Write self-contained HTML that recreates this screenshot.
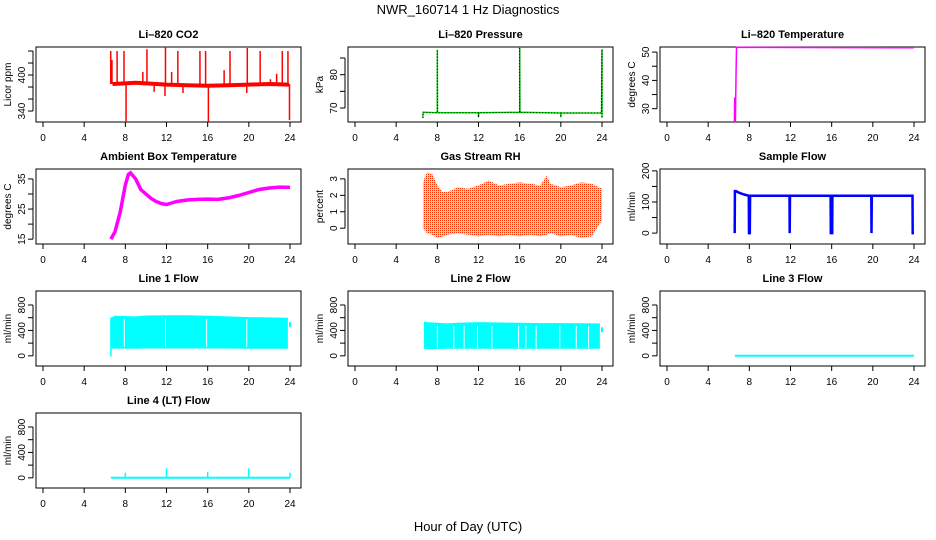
<!DOCTYPE html>
<html><head><meta charset="utf-8"><style>
body{margin:0;background:#fff}
svg{display:block;font-family:"Liberation Sans",sans-serif}
</style></head><body>
<svg id="c" width="936" height="540" viewBox="0 0 936 540">
<defs>
<pattern id="rhpat" width="2" height="2" patternUnits="userSpaceOnUse"><rect width="2" height="2" fill="#ffee00"/><rect width="1" height="1" fill="#ff3000"/></pattern>
</defs>
<text x="468" y="14" text-anchor="middle" font-size="13">NWR_160714  1 Hz Diagnostics</text>
<text x="468" y="531" text-anchor="middle" font-size="13">Hour of Day (UTC)</text>
</svg>
<script>
const xTicks=[0,4,8,12,16,20,24];
// CO2
const co2BaseHours=[6.75,8,9,10,12,14,16,18,20,22,23.9];
const co2BaseValues=[385,386,387,386,384,383,382,383,384,385,384];
const co2SpikeHours=[6.58,6.7,7.2,7.87,8.07,9.7,10.1,10.8,11.9,11.85,12.5,13.1,13.6,15.25,15.8,16.07,17.6,18.17,19.85,19.8,21.1,22.1,22.7,23.25,23.8,23.95];
const co2SpikeValues=[440,425,440,440,323,405,443,372,447,365,405,440,370,440,440,322,408,440,445,370,440,393,402,440,440,325];
// Pressure
const presHours=[6.6,6.62,8,8,8.02,12,12,12.02,16,16,16.02,20,20,20.02,23.95,24,24];
const presValues=[67,68.7,68.6,87.5,68.6,68.6,67.2,68.6,68.7,88.3,68.7,68.5,67.2,68.5,68.5,87.6,67];
// Li-820 temperature
const tempHours=[6.55,6.58,6.6,6.65,6.7,6.75,24];
const tempValues=[25.5,34,25.5,25.5,41,51.7,51.5];
// Ambient box temp
const ambHours=[6.6,7,7.5,8,8.3,8.5,9,9.5,10,10.5,11,11.5,12,12.5,13,14,15,16,17,18,19,20,21,22,23,24];
const ambValues=[15,17.5,24,33,36.5,37,35,31.5,30,28.5,27.5,26.8,26.5,27,27.5,28,28.2,28.3,28.2,28.7,29.5,30.5,31.5,32,32.3,32.2];
// Gas stream RH band
const rhHours=[6.6,7,7.5,8,8.5,9,10,11,12,13,14,15,16,17,18,18.6,19,20,21,22,23,24];
const rhUpper=[2.8,3.4,3.3,2.6,2.2,2.2,2.5,2.4,2.6,2.9,2.6,2.7,2.8,2.7,2.6,3.2,2.7,2.5,2.6,2.8,2.7,2.4];
const rhLower=[0,-0.3,-0.4,-0.6,-0.5,-0.4,-0.3,-0.4,-0.5,-0.4,-0.5,-0.4,-0.5,-0.4,-0.5,-0.4,-0.3,-0.5,-0.4,-0.6,-0.5,0.5];
// Sample flow
const sfHours=[6.58,6.6,6.7,7,7.5,7.95,7.97,8.05,8.07,11.9,11.92,11.95,15.9,15.92,16.05,16.07,19.85,19.87,19.9,23.85,23.87,24];
const sfValues=[0,135,135,130,124,120,0,0,120,120,0,120,120,0,0,120,120,0,120,120,0,0];
// Line flows
const l1Hours=[6.6,7,9,10,12,14,16,18,20,23.8];
const l1Upper=[600,630,620,635,640,640,630,620,610,600];
const l1Lower=[110,115,110,115,115,115,115,115,110,110];
const l1GapHours=[7.9,11.9,15.9,19.8];
const l2Hours=[6.7,7,9,10,12,14,16,18,20,23.8];
const l2Upper=[540,530,510,520,530,525,520,515,515,510];
const l2Lower=[110,105,110,110,110,110,110,110,110,110];
const l2GapHours=[8,9.6,10.6,11.9,13.3,15.9,16.6,17.6,19.9,21.5,22.7];
const l3Hours=[6.6,24];
const l3Values=[0,0];
const l4Hours=[6.6,24];
const l4Values=[0,0];
const l4SpikeHours=[8,12,16,20,24];
const l4SpikeValues=[80,150,90,150,80];

const NS='http://www.w3.org/2000/svg';
const svg=document.getElementById('c');
function el(tag,attrs,parent){const e=document.createElementNS(NS,tag);for(const k in attrs)e.setAttribute(k,attrs[k]);(parent||svg).appendChild(e);return e;}

function panel(col,row,name,title,ylab,ymin,ymax,ticks,labels){
  const L=36+312*col,R=301+312*col,T=47+122*row,B=122+122*row;
  const g=el('g',{});
  
  
  const xs=h=>43+312*col+h*(247/24);
  const ys=v=>B-(v-ymin)/(ymax-ymin)*(B-T);
  const t=el('text',{x:(L+R)/2,y:T-9,'text-anchor':'middle','font-size':11,'font-weight':'bold'},g);
  t.textContent=title;
  
  
  const box=el('rect',{x:L,y:T,width:R-L,height:B-T,fill:'none',stroke:'#000','stroke-width':1},g);
  
  
  const xa=el('g',{},g);
  
  
  el('line',{x1:xs(0),x2:xs(24),y1:B,y2:B,stroke:'#000'},xa);
  xTicks.forEach(h=>{
    el('line',{x1:xs(h),x2:xs(h),y1:B,y2:B+5,stroke:'#000'},xa);
    const tx=el('text',{x:xs(h),y:B+19,'text-anchor':'middle','font-size':10},xa);tx.textContent=h;
  });
  const ya=el('g',{},g);
  
  
  el('line',{x1:L-3,x2:L-3,y1:ys(ticks[0]),y2:ys(ticks[ticks.length-1]),stroke:'#000'},ya);
  ticks.forEach(v=>el('line',{x1:L-3,x2:L-8,y1:ys(v),y2:ys(v),stroke:'#000'},ya));
  labels.forEach(v=>{const tx=el('text',{x:0,y:0,'text-anchor':'middle','font-size':10,transform:`translate(${L-11},${ys(v)}) rotate(-90)`},ya);tx.textContent=v;});
  const yl=el('text',{x:0,y:0,'text-anchor':'middle','font-size':10,transform:`translate(${312*col+11},${(T+B)/2}) rotate(-90)`},g);
  yl.textContent=ylab;
  
  
  const data=el('g',{},g);
  
  
  return {xs,ys,g:data};
}
function line(p,hs,vs,color,w,extra){
  const pts=hs.map((h,i)=>p.xs(h).toFixed(1)+','+p.ys(vs[i]).toFixed(1)).join(' ');
  const a={points:pts,fill:'none',stroke:color,'stroke-width':w};
  Object.assign(a,extra||{});
  return el('polyline',a,p.g);
}
function band(p,hs,up,lo,fill){
  const pts=hs.map((h,i)=>p.xs(h).toFixed(1)+','+p.ys(up[i]).toFixed(1)).concat(hs.slice().reverse().map((h,j)=>{const i=hs.length-1-j;return p.xs(h).toFixed(1)+','+p.ys(lo[i]).toFixed(1);})).join(' ');
  return el('polygon',{points:pts,fill:fill,stroke:'none'},p.g);
}

let p=panel(0,0,'co2','Li\u2013820 CO2','Licor ppm',321.7,446.7,[340,360,380,400,420,440],[340,400]);
line(p,co2BaseHours,co2BaseValues,'#ff0000',4);
co2SpikeHours.forEach((h,i)=>el('line',{x1:p.xs(h),x2:p.xs(h),y1:p.ys(385),y2:p.ys(co2SpikeValues[i]),stroke:'#ff0000','stroke-width':1.5},p.g));

p=panel(1,0,'pressure','Li\u2013820 Pressure','kPa',65.8,88.3,[70,75,80,85],[70,80]);
line(p,presHours,presValues,'#00dd00',1.5);
line(p,presHours,presValues,'#000',1,{'stroke-dasharray':'1,2'});

p=panel(2,0,'li820-temperature','Li\u2013820 Temperature','degrees C',25.3,51.8,[30,35,40,45,50],[30,40,50]);
line(p,tempHours,tempValues,'#ff00ff',1.5);

p=panel(0,1,'ambient-temp','Ambient Box Temperature','degrees C',13.4,38.3,[15,20,25,30,35],[15,25,35]);
line(p,ambHours,ambValues,'#ff00ff',3.5);

p=panel(1,1,'gas-rh','Gas Stream RH','percent',-0.96,3.6,[0,1,2,3],[0,1,2,3]);
band(p,rhHours,rhUpper,rhLower,'url(#rhpat)');

p=panel(2,1,'sample-flow','Sample Flow','ml/min',-35,206,[0,50,100,150,200],[0,100,200]);
line(p,sfHours,sfValues,'#0000ff',2.5);

const fT=[0,200,400,600,800],fL=[0,400,800];
p=panel(0,2,'line1-flow','Line 1 Flow','ml/min',-160,1020,fT,fL);
band(p,l1Hours,l1Upper,l1Lower,'#00ffff');
el('line',{x1:p.xs(6.6),x2:p.xs(6.6),y1:p.ys(-10),y2:p.ys(600),stroke:'#00ffff','stroke-width':1.5},p.g);
el('line',{x1:p.xs(24),x2:p.xs(24),y1:p.ys(450),y2:p.ys(530),stroke:'#00ffff','stroke-width':2},p.g);
l1GapHours.forEach(h=>el('line',{x1:p.xs(h),x2:p.xs(h),y1:p.ys(580),y2:p.ys(140),stroke:'#fff','stroke-width':1},p.g));

p=panel(1,2,'line2-flow','Line 2 Flow','ml/min',-160,1020,fT,fL);
band(p,l2Hours,l2Upper,l2Lower,'#00ffff');
el('line',{x1:p.xs(24),x2:p.xs(24),y1:p.ys(370),y2:p.ys(450),stroke:'#00ffff','stroke-width':2},p.g);
l2GapHours.forEach(h=>el('line',{x1:p.xs(h),x2:p.xs(h),y1:p.ys(470),y2:p.ys(120),stroke:'#fff','stroke-width':1},p.g));

p=panel(2,2,'line3-flow','Line 3 Flow','ml/min',-160,1020,fT,fL);
line(p,l3Hours,l3Values,'#00ffff',2);

p=panel(0,3,'line4-flow','Line 4 (LT) Flow','ml/min',-160,1020,fT,fL);
line(p,l4Hours,l4Values,'#00ffff',2);
l4SpikeHours.forEach((h,i)=>el('line',{x1:p.xs(h),x2:p.xs(h),y1:p.ys(0),y2:p.ys(l4SpikeValues[i]),stroke:'#00ffff','stroke-width':1.5},p.g));
</script>
</body></html>
